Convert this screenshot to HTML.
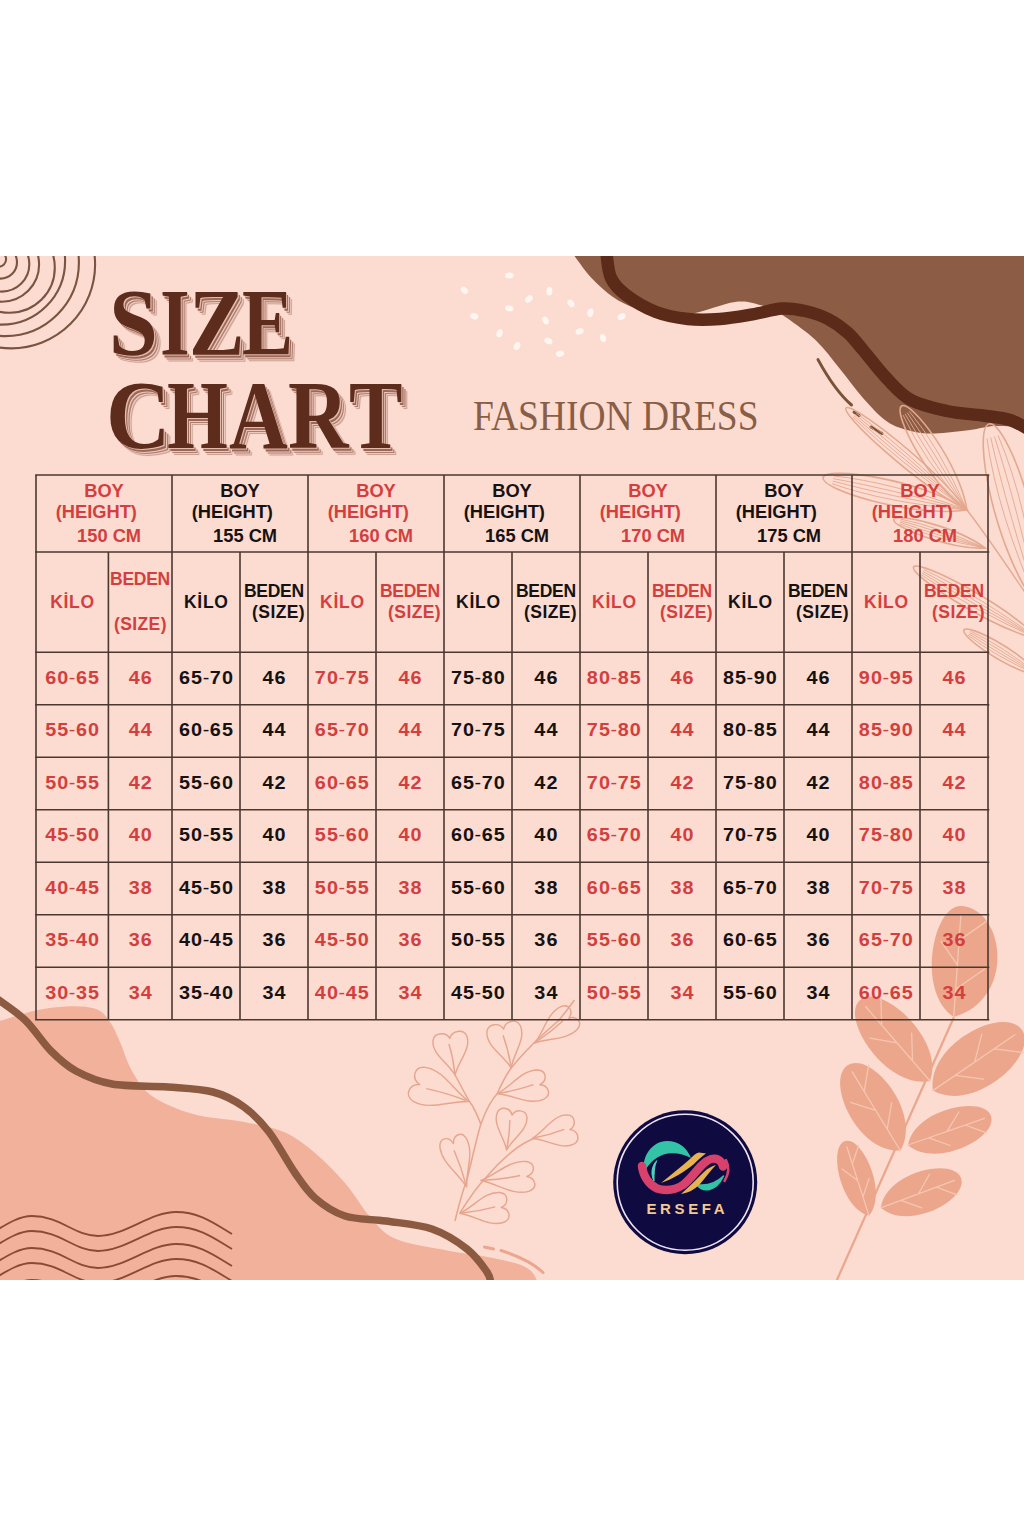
<!DOCTYPE html>
<html><head><meta charset="utf-8"><style>
html,body{margin:0;padding:0;background:#fff;}
body{width:1024px;height:1536px;position:relative;overflow:hidden;}
.t{position:absolute;font-family:"Liberation Serif",serif;white-space:nowrap;line-height:1;transform-origin:0 0;}
.big{font-weight:bold;color:#5e2c1c;font-size:97.5px;
text-shadow:1.3px 1.3px 0 #e4bcae,2.6px 2.6px 0.3px #9c6858,3.7px 3.7px 0 #ecc6b9,5px 5px 0.4px #ad7d6d,6.1px 6.1px 0 #eecabe,7.2px 7.2px 0.8px #c8a092;}
.fd{color:#895e46;font-size:41.4px;}
</style></head><body>
<svg width="1024" height="1536" viewBox="0 0 1024 1536" style="position:absolute;left:0;top:0"><defs><clipPath id="pc"><rect x="0" y="256" width="1024" height="1024"/></clipPath></defs><rect x="0" y="256" width="1024" height="1024" fill="#fcdbd1"/><g clip-path="url(#pc)"><path d="M0.0,1021.0 C5.9,1019.2 24.5,1012.9 35.5,1010.5 C46.5,1008.1 55.9,1006.6 66.0,1006.4 C76.1,1006.1 88.7,1006.4 96.0,1009.0 C103.3,1011.6 106.0,1016.5 110.0,1022.0 C114.0,1027.5 116.3,1033.8 120.0,1042.0 C123.7,1050.2 126.7,1062.0 132.0,1071.0 C137.3,1080.0 141.8,1088.8 152.0,1096.0 C162.2,1103.2 177.7,1109.7 193.0,1114.0 C208.3,1118.3 228.8,1119.0 244.0,1122.0 C259.2,1125.0 272.2,1126.8 284.0,1132.0 C295.8,1137.2 304.8,1144.5 315.0,1153.0 C325.2,1161.5 335.7,1172.2 345.0,1183.0 C354.3,1193.8 362.5,1208.7 371.0,1218.0 C379.5,1227.3 383.3,1233.6 396.0,1239.0 C408.7,1244.4 432.7,1247.6 447.0,1250.4 C461.3,1253.2 470.7,1253.9 482.0,1256.0 C493.3,1258.1 506.8,1260.5 515.0,1263.0 C523.2,1265.5 527.2,1267.7 531.0,1271.0 C534.8,1274.3 536.8,1281.0 538.0,1283.0 L0,1282 Z" fill="#f2b19b"/><path d="M-4.0,998.0 C0.8,1001.7 15.8,1011.2 25.0,1020.0 C34.2,1028.8 42.5,1042.5 51.0,1051.0 C59.5,1059.5 65.8,1065.5 76.0,1071.0 C86.2,1076.5 96.7,1081.3 112.0,1084.0 C127.3,1086.7 151.2,1085.7 168.0,1087.0 C184.8,1088.3 200.3,1088.7 213.0,1092.0 C225.7,1095.3 234.7,1100.3 244.0,1107.0 C253.3,1113.7 260.5,1121.0 269.0,1132.0 C277.5,1143.0 287.3,1162.0 295.0,1173.0 C302.7,1184.0 306.7,1190.8 315.0,1198.0 C323.3,1205.2 333.2,1212.2 345.0,1216.0 C356.8,1219.8 371.5,1218.8 386.0,1221.0 C400.5,1223.2 418.5,1224.3 432.0,1229.0 C445.5,1233.7 457.8,1241.8 467.0,1249.0 C476.2,1256.2 483.0,1266.2 487.0,1272.0 C491.0,1277.8 490.3,1282.0 491.0,1284.0" fill="none" stroke="#8b5a40" stroke-width="7.5"/><path d="M484.5,1247 L493.5,1249 M501,1250.5 C515,1255 532,1262 543,1272.5" fill="none" stroke="#eaa68e" stroke-width="3" stroke-linecap="round"/><path d="M-10,1234 C10,1222 20,1216 32,1216 C60,1216 75,1236 98,1236 C125,1236 150,1212 176,1212 C200,1212 215,1224 232,1234" fill="none" stroke="#8b4a35" stroke-width="1.8"/><path d="M-10,1249 C10,1237 20,1231 32,1231 C60,1231 75,1251 98,1251 C125,1251 150,1227 176,1227 C200,1227 215,1239 232,1249" fill="none" stroke="#8b4a35" stroke-width="1.8"/><path d="M-10,1266 C10,1254 20,1248 32,1248 C60,1248 75,1268 98,1268 C125,1268 150,1244 176,1244 C200,1244 215,1256 232,1266" fill="none" stroke="#8b4a35" stroke-width="1.8"/><path d="M-10,1281 C10,1269 20,1263 32,1263 C60,1263 75,1283 98,1283 C125,1283 150,1259 176,1259 C200,1259 215,1271 232,1281" fill="none" stroke="#8b4a35" stroke-width="1.8"/><path d="M-10,1298 C10,1286 20,1280 32,1280 C60,1280 75,1300 98,1300 C125,1300 150,1276 176,1276 C200,1276 215,1288 232,1298" fill="none" stroke="#8b4a35" stroke-width="1.8"/><path d="M573.0,254.0 C576.1,258.0 584.8,270.8 591.5,278.0 C598.2,285.2 605.9,292.0 613.0,297.0 C620.1,302.0 627.5,305.2 634.0,308.0 C640.5,310.8 642.7,313.0 652.0,314.0 C661.3,315.0 676.2,316.0 690.0,314.0 C703.8,312.0 723.3,303.5 735.0,302.0 C746.7,300.5 753.3,303.5 760.0,305.0 C766.7,306.5 770.5,308.8 775.0,311.0 C779.5,313.2 780.2,313.1 787.0,318.0 C793.8,322.9 807.2,332.0 816.0,340.5 C824.8,349.0 832.2,359.4 840.0,369.0 C847.8,378.6 855.2,389.2 863.0,398.0 C870.8,406.8 879.0,416.0 887.0,421.5 C895.0,427.0 903.0,429.0 911.0,431.0 C919.0,433.0 925.2,433.7 935.0,433.5 C944.8,433.3 960.2,431.2 970.0,430.0 C979.8,428.8 984.7,426.5 994.0,426.0 C1003.3,425.5 1020.7,426.8 1026.0,427.0 L1026,254 Z" fill="#8c5d44"/><path d="M606.5,254.0 C607.2,258.0 607.8,271.2 611.0,278.0 C614.2,284.8 618.5,289.3 626.0,295.0 C633.5,300.7 645.7,308.0 656.0,312.0 C666.3,316.0 677.3,317.8 688.0,319.0 C698.7,320.2 709.2,319.8 720.0,319.0 C730.8,318.2 742.3,316.1 752.6,314.4 C762.9,312.6 773.3,309.1 782.0,308.5 C790.7,307.9 797.3,309.2 805.0,311.0 C812.7,312.8 820.8,315.3 828.0,319.0 C835.2,322.7 842.2,327.8 848.0,333.0 C853.8,338.2 856.5,342.4 863.0,350.0 C869.5,357.6 879.0,370.4 887.0,378.7 C895.0,387.0 901.0,394.6 911.0,400.0 C921.0,405.4 934.9,408.4 946.8,411.0 C958.7,413.6 972.0,414.0 982.5,415.5 C993.0,417.0 1002.1,417.6 1010.0,420.0 C1017.9,422.4 1026.7,428.3 1030.0,430.0" fill="none" stroke="#5c2a18" stroke-width="12.5"/><path d="M818,359.6 C828,378 840,395 851.5,405" fill="none" stroke="#7a5238" stroke-width="3" stroke-linecap="round"/><path d="M854,412 L859,415.5 M871,427 L882,433.5" fill="none" stroke="#7a5238" stroke-width="3" stroke-linecap="round"/><path d="M967.0,510.0 C933.2,464.1 851.2,401.9 846.0,408.0 C840.8,414.1 916.1,484.5 967.0,510.0 Z" fill="none" stroke="#e4a88f" stroke-width="1.6" /><path d="M967.0,510.0 Q895.9,459.3 852.8,417.1 M967.0,510.0 Q898.9,455.7 853.9,415.8 M967.0,510.0 Q902.0,452.1 855.0,414.5 M967.0,510.0 Q905.0,448.5 856.2,413.1" fill="none" stroke="#e4a88f" stroke-width="0.9"/><path d="M967.0,510.0 C959.9,463.7 911.1,400.0 901.6,406.0 C892.1,412.0 928.3,483.5 967.0,510.0 Z" fill="none" stroke="#e4a88f" stroke-width="1.6" /><path d="M967.0,510.0 Q922.6,458.1 903.1,415.2 M967.0,510.0 Q928.2,454.6 905.1,413.9 M967.0,510.0 Q933.8,451.0 907.2,412.6 M967.0,510.0 Q939.5,447.5 909.3,411.3" fill="none" stroke="#e4a88f" stroke-width="0.9"/><path d="M967.0,510.0 C921.0,479.2 825.6,465.9 823.0,477.6 C820.4,489.3 912.2,518.1 967.0,510.0 Z" fill="none" stroke="#e4a88f" stroke-width="1.6" /><path d="M967.0,510.0 Q885.5,502.6 832.2,483.7 M967.0,510.0 Q887.0,495.7 832.8,481.1 M967.0,510.0 Q888.6,488.7 833.4,478.6 M967.0,510.0 Q890.1,481.8 833.9,476.0" fill="none" stroke="#e4a88f" stroke-width="0.9"/><path d="M985.0,548.0 C956.6,526.6 895.8,512.6 893.7,519.5 C891.6,526.4 949.5,549.5 985.0,548.0 Z" fill="none" stroke="#e4a88f" stroke-width="1.6" /><path d="M985.0,548.0 Q932.9,538.4 899.4,523.8 M985.0,548.0 Q934.1,534.4 899.9,522.2 M985.0,548.0 Q935.4,530.3 900.3,520.7 M985.0,548.0 Q936.7,526.2 900.8,519.2" fill="none" stroke="#e4a88f" stroke-width="0.9"/><path d="M1040.0,610.0 C1050.4,537.2 1006.0,419.3 989.0,424.0 C972.0,428.7 993.9,552.6 1040.0,610.0 Z" fill="none" stroke="#e4a88f" stroke-width="1.6" /><path d="M1040.0,610.0 Q996.8,511.8 987.0,438.5 M1040.0,610.0 Q1006.9,509.1 990.7,437.5 M1040.0,610.0 Q1017.0,506.3 994.4,436.5 M1040.0,610.0 Q1027.1,503.6 998.1,435.5" fill="none" stroke="#e4a88f" stroke-width="0.9"/><path d="M1040.0,640.0 C1003.1,601.8 918.0,559.4 913.6,567.0 C909.2,574.6 988.4,627.1 1040.0,640.0 Z" fill="none" stroke="#e4a88f" stroke-width="1.6" /><path d="M1040.0,640.0 Q966.6,606.6 921.0,574.6 M1040.0,640.0 Q969.2,602.1 922.0,572.9 M1040.0,640.0 Q971.8,597.6 922.9,571.3 M1040.0,640.0 Q974.4,593.1 923.9,569.6" fill="none" stroke="#e4a88f" stroke-width="0.9"/><path d="M1040.0,676.0 C1019.6,649.7 967.7,623.8 964.0,630.0 C960.3,636.2 1007.2,670.1 1040.0,676.0 Z" fill="none" stroke="#e4a88f" stroke-width="1.6" /><path d="M1040.0,676.0 Q994.9,656.2 968.1,635.2 M1040.0,676.0 Q997.1,652.5 968.9,633.9 M1040.0,676.0 Q999.3,648.9 969.7,632.5 M1040.0,676.0 Q1001.5,645.2 970.5,631.2" fill="none" stroke="#e4a88f" stroke-width="0.9"/><path d="M967,510 C990,540 1010,570 1030,600" fill="none" stroke="#e4a88f" stroke-width="1.3"/><path d="M455,1221 C460,1200 463,1190 466.7,1180.5 C472,1160 476,1140 480.8,1124.2 C486,1110 491,1100 497.2,1093.75 C502,1083 506,1075 511.2,1068 C519,1058 527,1050 534.7,1042.2 C542,1035 550,1028 558.1,1021 C565,1013 570,1006 574.5,1000 M480.8,1124.2 C477,1114 473,1106 469,1100.8 C464,1092 459,1082 455,1075 M459.7,1213.3 C468,1200 476,1188 485.5,1178 C494,1168 502,1160 511.2,1152.3 C519,1146 527,1141 534.7,1138.3" fill="none" stroke="#e6a58e" stroke-width="1.5"/><g transform="translate(455.0,1075.0) rotate(-98.0)"><path d="M0,0 C13.2,-5.1 24.200000000000003,-20.4 37.4,-17.0 C45.32,-14.28 44.0,-2.72 36.96,0 C44.0,2.72 45.32,14.28 37.4,17.0 C24.200000000000003,20.4 13.2,5.1 0,0 Z" fill="none" stroke="#e6a58e" stroke-width="1.4" stroke-linejoin="round"/><path d="M2.2,0 Q17.6,0.7 31.7,-1.7" fill="none" stroke="#e6a58e" stroke-width="1.4"/></g><g transform="translate(469.0,1101.5) rotate(-161.0)"><path d="M0,0 C18.599999999999998,-5.3999999999999995 34.1,-21.599999999999998 52.699999999999996,-18.0 C63.86,-15.12 62.0,-2.88 52.08,0 C62.0,2.88 63.86,15.12 52.699999999999996,18.0 C34.1,21.599999999999998 18.599999999999998,5.3999999999999995 0,0 Z" fill="none" stroke="#e6a58e" stroke-width="1.4" stroke-linejoin="round"/><path d="M3.1,0 Q24.8,0.7 44.6,-1.8" fill="none" stroke="#e6a58e" stroke-width="1.4"/></g><g transform="translate(511.2,1068.0) rotate(-101.0)"><path d="M0,0 C14.1,-5.1 25.85,-20.4 39.949999999999996,-17.0 C48.410000000000004,-14.28 47.0,-2.72 39.48,0 C47.0,2.72 48.410000000000004,14.28 39.949999999999996,17.0 C25.85,20.4 14.1,5.1 0,0 Z" fill="none" stroke="#e6a58e" stroke-width="1.4" stroke-linejoin="round"/><path d="M2.4,0 Q18.8,0.7 33.8,-1.7" fill="none" stroke="#e6a58e" stroke-width="1.4"/></g><g transform="translate(497.2,1093.8) rotate(-12.0)"><path d="M0,0 C15.6,-4.5 28.6,-18.0 44.199999999999996,-15.0 C53.56,-12.6 52.0,-2.4 43.68,0 C52.0,2.4 53.56,12.6 44.199999999999996,15.0 C28.6,18.0 15.6,4.5 0,0 Z" fill="none" stroke="#e6a58e" stroke-width="1.4" stroke-linejoin="round"/><path d="M2.6,0 Q20.8,0.6 37.4,-1.5" fill="none" stroke="#e6a58e" stroke-width="1.4"/></g><g transform="translate(534.7,1043.0) rotate(-36.0)"><path d="M0,0 C15.0,-4.2 27.500000000000004,-16.8 42.5,-14.0 C51.5,-11.76 50.0,-2.24 42.0,0 C50.0,2.24 51.5,11.76 42.5,14.0 C27.500000000000004,16.8 15.0,4.2 0,0 Z" fill="none" stroke="#e6a58e" stroke-width="1.4" stroke-linejoin="round"/><path d="M2.5,0 Q20.0,0.6 36.0,-1.4" fill="none" stroke="#e6a58e" stroke-width="1.4"/></g><g transform="translate(506.6,1150.0) rotate(-81.0)"><path d="M0,0 C12.6,-4.5 23.1,-18.0 35.699999999999996,-15.0 C43.26,-12.6 42.0,-2.4 35.28,0 C42.0,2.4 43.26,12.6 35.699999999999996,15.0 C23.1,18.0 12.6,4.5 0,0 Z" fill="none" stroke="#e6a58e" stroke-width="1.4" stroke-linejoin="round"/><path d="M2.1,0 Q16.8,0.6 30.2,-1.5" fill="none" stroke="#e6a58e" stroke-width="1.4"/></g><g transform="translate(532.3,1138.3) rotate(-13.0)"><path d="M0,0 C13.799999999999999,-4.5 25.3,-18.0 39.1,-15.0 C47.38,-12.6 46.0,-2.4 38.64,0 C46.0,2.4 47.38,12.6 39.1,15.0 C25.3,18.0 13.799999999999999,4.5 0,0 Z" fill="none" stroke="#e6a58e" stroke-width="1.4" stroke-linejoin="round"/><path d="M2.3,0 Q18.4,0.6 33.1,-1.5" fill="none" stroke="#e6a58e" stroke-width="1.4"/></g><g transform="translate(466.7,1187.0) rotate(-107.0)"><path d="M0,0 C16.2,-4.2 29.700000000000003,-16.8 45.9,-14.0 C55.620000000000005,-11.76 54.0,-2.24 45.36,0 C54.0,2.24 55.620000000000005,11.76 45.9,14.0 C29.700000000000003,16.8 16.2,4.2 0,0 Z" fill="none" stroke="#e6a58e" stroke-width="1.4" stroke-linejoin="round"/><path d="M2.7,0 Q21.6,0.6 38.9,-1.4" fill="none" stroke="#e6a58e" stroke-width="1.4"/></g><g transform="translate(480.8,1180.5) rotate(-5.0)"><path d="M0,0 C16.5,-4.5 30.250000000000004,-18.0 46.75,-15.0 C56.65,-12.6 55.0,-2.4 46.199999999999996,0 C55.0,2.4 56.65,12.6 46.75,15.0 C30.250000000000004,18.0 16.5,4.5 0,0 Z" fill="none" stroke="#e6a58e" stroke-width="1.4" stroke-linejoin="round"/><path d="M2.8,0 Q22.0,0.6 39.6,-1.5" fill="none" stroke="#e6a58e" stroke-width="1.4"/></g><g transform="translate(459.7,1213.3) rotate(-8.0)"><path d="M0,0 C15.0,-4.5 27.500000000000004,-18.0 42.5,-15.0 C51.5,-12.6 50.0,-2.4 42.0,0 C50.0,2.4 51.5,12.6 42.5,15.0 C27.500000000000004,18.0 15.0,4.5 0,0 Z" fill="none" stroke="#e6a58e" stroke-width="1.4" stroke-linejoin="round"/><path d="M2.5,0 Q20.0,0.6 36.0,-1.5" fill="none" stroke="#e6a58e" stroke-width="1.4"/></g><path d="M836,1282 C860,1230 900,1140 954,1017" fill="none" stroke="#eba68c" stroke-width="2.2"/><path d="M953.7,1017.0 C1016.3,999.1 1005.1,909.1 961.5,906.0 C933.1,904.0 915.5,992.0 953.7,1017.0 Z" fill="#eba68c" stroke="none" stroke-width="1.3" /><path d="M953.7,1017.0 L960.9,914.9 M955.6,989.2 L984.7,969.0 M957.4,964.8 L941.0,941.4 M959.1,940.4 L988.2,920.1" fill="none" stroke="#f6c6b2" stroke-width="1.3" stroke-linecap="round"/><path d="M930.0,1081.0 C945.2,1039.6 880.8,982.0 860.0,1000.0 C839.2,1018.0 886.8,1090.0 930.0,1081.0 Z" fill="#eba68c" stroke="none" stroke-width="1.3" /><path d="M930.0,1081.0 L865.6,1006.5 M912.5,1060.8 L911.7,1033.2 M897.1,1042.9 L869.9,1038.1 M881.7,1025.1 L880.9,997.5" fill="none" stroke="#f6c6b2" stroke-width="1.3" stroke-linecap="round"/><path d="M932.8,1090.6 C974.6,1113.7 1039.1,1055.1 1022.0,1030.0 C1004.9,1004.9 926.7,1043.3 932.8,1090.6 Z" fill="#eba68c" stroke="none" stroke-width="1.3" /><path d="M932.8,1090.6 L1014.9,1034.8 M955.1,1075.4 L983.7,1079.2 M974.7,1062.1 L981.8,1034.1 M994.3,1048.8 L1023.0,1052.5" fill="none" stroke="#f6c6b2" stroke-width="1.3" stroke-linecap="round"/><path d="M900.3,1150.5 C922.7,1113.3 871.5,1050.6 848.0,1065.0 C824.5,1079.4 856.9,1153.5 900.3,1150.5 Z" fill="#eba68c" stroke="none" stroke-width="1.3" /><path d="M900.3,1150.5 L852.2,1071.8 M887.2,1129.1 L891.6,1102.9 M875.7,1110.3 L850.4,1102.3 M864.2,1091.5 L868.6,1065.3" fill="none" stroke="#f6c6b2" stroke-width="1.3" stroke-linecap="round"/><path d="M908.0,1145.0 C935.1,1169.3 998.5,1137.5 991.0,1116.0 C983.5,1094.5 914.1,1109.1 908.0,1145.0 Z" fill="#eba68c" stroke="none" stroke-width="1.3" /><path d="M908.0,1145.0 L984.4,1118.3 M928.8,1137.8 L950.1,1145.5 M947.0,1131.4 L958.9,1112.0 M965.3,1125.0 L986.6,1132.8" fill="none" stroke="#f6c6b2" stroke-width="1.3" stroke-linecap="round"/><path d="M869.0,1215.6 C888.3,1192.9 862.2,1135.5 845.0,1141.0 C827.8,1146.5 840.1,1208.4 869.0,1215.6 Z" fill="#eba68c" stroke="none" stroke-width="1.3" /><path d="M869.0,1215.6 L846.9,1147.0 M863.0,1196.9 L869.1,1178.5 M857.7,1180.5 L842.1,1169.1 M852.4,1164.1 L858.5,1145.7" fill="none" stroke="#f6c6b2" stroke-width="1.3" stroke-linecap="round"/><path d="M880.8,1207.8 C908.0,1231.8 968.9,1199.4 961.0,1178.0 C953.1,1156.6 885.7,1171.9 880.8,1207.8 Z" fill="#eba68c" stroke="none" stroke-width="1.3" /><path d="M880.8,1207.8 L954.6,1180.4 M900.8,1200.3 L921.9,1207.9 M918.5,1193.8 L929.5,1174.3 M936.1,1187.2 L957.2,1194.8" fill="none" stroke="#f6c6b2" stroke-width="1.3" stroke-linecap="round"/></g><g clip-path="url(#pc)"><circle cx="-1.3" cy="259.3" r="7.4" fill="none" stroke="#7a5442" stroke-width="2.1"/><circle cx="0.6" cy="262.2" r="16.4" fill="none" stroke="#7a5442" stroke-width="2.1"/><circle cx="1.9" cy="264.2" r="27.4" fill="none" stroke="#7a5442" stroke-width="2.1"/><circle cx="2.0" cy="264.6" r="37.1" fill="none" stroke="#7a5442" stroke-width="2.1"/><circle cx="9.7" cy="267.7" r="45.1" fill="none" stroke="#7a5442" stroke-width="2.1"/><circle cx="1.4" cy="260.9" r="63.7" fill="none" stroke="#7a5442" stroke-width="2.1"/><circle cx="5.4" cy="262.6" r="73.5" fill="none" stroke="#7a5442" stroke-width="2.1"/><circle cx="11.2" cy="264.5" r="83.9" fill="none" stroke="#7a5442" stroke-width="2.1"/></g><ellipse cx="509.3" cy="275.6" rx="4.2" ry="3" transform="rotate(0 509.3 275.6)" fill="#fff6f2"/><ellipse cx="464.4" cy="290.3" rx="4.2" ry="3" transform="rotate(47 464.4 290.3)" fill="#fff6f2"/><ellipse cx="549.4" cy="291.3" rx="4.2" ry="3" transform="rotate(94 549.4 291.3)" fill="#fff6f2"/><ellipse cx="528.9" cy="299" rx="4.2" ry="3" transform="rotate(141 528.9 299)" fill="#fff6f2"/><ellipse cx="509.3" cy="308.4" rx="4.2" ry="3" transform="rotate(8 509.3 308.4)" fill="#fff6f2"/><ellipse cx="570.9" cy="303.4" rx="4.2" ry="3" transform="rotate(55 570.9 303.4)" fill="#fff6f2"/><ellipse cx="590.4" cy="312.7" rx="4.2" ry="3" transform="rotate(102 590.4 312.7)" fill="#fff6f2"/><ellipse cx="621.6" cy="316.6" rx="4.2" ry="3" transform="rotate(149 621.6 316.6)" fill="#fff6f2"/><ellipse cx="474.2" cy="316.25" rx="4.2" ry="3" transform="rotate(16 474.2 316.25)" fill="#fff6f2"/><ellipse cx="545.5" cy="320.5" rx="4.2" ry="3" transform="rotate(63 545.5 320.5)" fill="#fff6f2"/><ellipse cx="499.6" cy="333.2" rx="4.2" ry="3" transform="rotate(110 499.6 333.2)" fill="#fff6f2"/><ellipse cx="579.6" cy="331.3" rx="4.2" ry="3" transform="rotate(157 579.6 331.3)" fill="#fff6f2"/><ellipse cx="548.4" cy="341" rx="4.2" ry="3" transform="rotate(24 548.4 341)" fill="#fff6f2"/><ellipse cx="603" cy="338" rx="4.2" ry="3" transform="rotate(71 603 338)" fill="#fff6f2"/><ellipse cx="517" cy="346" rx="4.2" ry="3" transform="rotate(118 517 346)" fill="#fff6f2"/><ellipse cx="560" cy="353.75" rx="4.2" ry="3" transform="rotate(165 560 353.75)" fill="#fff6f2"/><line x1="35.2" y1="475" x2="989.3" y2="475" stroke="#4a3830" stroke-width="1.6"/><line x1="35.2" y1="552" x2="989.3" y2="552" stroke="#4a3830" stroke-width="1.6"/><line x1="35.2" y1="652.2" x2="989.3" y2="652.2" stroke="#4a3830" stroke-width="1.6"/><line x1="35.2" y1="704.7" x2="989.3" y2="704.7" stroke="#4a3830" stroke-width="1.6"/><line x1="35.2" y1="757.2" x2="989.3" y2="757.2" stroke="#4a3830" stroke-width="1.6"/><line x1="35.2" y1="809.7" x2="989.3" y2="809.7" stroke="#4a3830" stroke-width="1.6"/><line x1="35.2" y1="862.2" x2="989.3" y2="862.2" stroke="#4a3830" stroke-width="1.6"/><line x1="35.2" y1="914.7" x2="989.3" y2="914.7" stroke="#4a3830" stroke-width="1.6"/><line x1="35.2" y1="967.2" x2="989.3" y2="967.2" stroke="#4a3830" stroke-width="1.6"/><line x1="35.2" y1="1019.7" x2="989.3" y2="1019.7" stroke="#4a3830" stroke-width="1.6"/><line x1="36" y1="475" x2="36" y2="1019.7" stroke="#4a3830" stroke-width="1.6"/><line x1="172" y1="475" x2="172" y2="1019.7" stroke="#4a3830" stroke-width="1.6"/><line x1="308" y1="475" x2="308" y2="1019.7" stroke="#4a3830" stroke-width="1.6"/><line x1="444" y1="475" x2="444" y2="1019.7" stroke="#4a3830" stroke-width="1.6"/><line x1="580" y1="475" x2="580" y2="1019.7" stroke="#4a3830" stroke-width="1.6"/><line x1="716" y1="475" x2="716" y2="1019.7" stroke="#4a3830" stroke-width="1.6"/><line x1="852" y1="475" x2="852" y2="1019.7" stroke="#4a3830" stroke-width="1.6"/><line x1="988" y1="475" x2="988" y2="1019.7" stroke="#4a3830" stroke-width="1.6"/><line x1="108.4" y1="552" x2="108.4" y2="1019.7" stroke="#4a3830" stroke-width="1.6"/><line x1="240" y1="552" x2="240" y2="1019.7" stroke="#4a3830" stroke-width="1.6"/><line x1="376" y1="552" x2="376" y2="1019.7" stroke="#4a3830" stroke-width="1.6"/><line x1="512" y1="552" x2="512" y2="1019.7" stroke="#4a3830" stroke-width="1.6"/><line x1="648" y1="552" x2="648" y2="1019.7" stroke="#4a3830" stroke-width="1.6"/><line x1="784" y1="552" x2="784" y2="1019.7" stroke="#4a3830" stroke-width="1.6"/><line x1="920" y1="552" x2="920" y2="1019.7" stroke="#4a3830" stroke-width="1.6"/><g font-family="Liberation Sans, sans-serif" font-weight="bold"><text x="104.0" y="497.0" fill="#d33f3f" font-size="18.3" letter-spacing="0" text-anchor="middle">BOY</text><text x="96.3" y="518.3" fill="#d33f3f" font-size="18.3" letter-spacing="0" text-anchor="middle">(HEIGHT)</text><text x="109.1" y="542.3" fill="#d33f3f" font-size="18.3" letter-spacing="0" text-anchor="middle">150 CM</text><text x="72.5" y="608.0" fill="#d33f3f" font-size="17.5" letter-spacing="0.7" text-anchor="middle">KİLO</text><text x="140.0" y="584.5" fill="#d33f3f" font-size="17.5" letter-spacing="-0.3" text-anchor="middle">BEDEN</text><text x="140.4" y="630.0" fill="#d33f3f" font-size="17.5" letter-spacing="0.4" text-anchor="middle">(SIZE)</text><text x="72.7" y="683.7" fill="#d33f3f" font-size="18" letter-spacing="1.0" text-anchor="middle" transform="translate(72.65,0) scale(1.1,1) translate(-72.65,0)">60<tspan dx="-0.5" font-weight="normal">-</tspan><tspan dx="-0.5">65</tspan></text><text x="140.8" y="683.7" fill="#d33f3f" font-size="18" letter-spacing="1.0" text-anchor="middle" transform="translate(140.75,0) scale(1.1,1) translate(-140.75,0)">46</text><text x="72.7" y="736.2" fill="#d33f3f" font-size="18" letter-spacing="1.0" text-anchor="middle" transform="translate(72.65,0) scale(1.1,1) translate(-72.65,0)">55<tspan dx="-0.5" font-weight="normal">-</tspan><tspan dx="-0.5">60</tspan></text><text x="140.8" y="736.2" fill="#d33f3f" font-size="18" letter-spacing="1.0" text-anchor="middle" transform="translate(140.75,0) scale(1.1,1) translate(-140.75,0)">44</text><text x="72.7" y="788.7" fill="#d33f3f" font-size="18" letter-spacing="1.0" text-anchor="middle" transform="translate(72.65,0) scale(1.1,1) translate(-72.65,0)">50<tspan dx="-0.5" font-weight="normal">-</tspan><tspan dx="-0.5">55</tspan></text><text x="140.8" y="788.7" fill="#d33f3f" font-size="18" letter-spacing="1.0" text-anchor="middle" transform="translate(140.75,0) scale(1.1,1) translate(-140.75,0)">42</text><text x="72.7" y="841.2" fill="#d33f3f" font-size="18" letter-spacing="1.0" text-anchor="middle" transform="translate(72.65,0) scale(1.1,1) translate(-72.65,0)">45<tspan dx="-0.5" font-weight="normal">-</tspan><tspan dx="-0.5">50</tspan></text><text x="140.8" y="841.2" fill="#d33f3f" font-size="18" letter-spacing="1.0" text-anchor="middle" transform="translate(140.75,0) scale(1.1,1) translate(-140.75,0)">40</text><text x="72.7" y="893.7" fill="#d33f3f" font-size="18" letter-spacing="1.0" text-anchor="middle" transform="translate(72.65,0) scale(1.1,1) translate(-72.65,0)">40<tspan dx="-0.5" font-weight="normal">-</tspan><tspan dx="-0.5">45</tspan></text><text x="140.8" y="893.7" fill="#d33f3f" font-size="18" letter-spacing="1.0" text-anchor="middle" transform="translate(140.75,0) scale(1.1,1) translate(-140.75,0)">38</text><text x="72.7" y="946.2" fill="#d33f3f" font-size="18" letter-spacing="1.0" text-anchor="middle" transform="translate(72.65,0) scale(1.1,1) translate(-72.65,0)">35<tspan dx="-0.5" font-weight="normal">-</tspan><tspan dx="-0.5">40</tspan></text><text x="140.8" y="946.2" fill="#d33f3f" font-size="18" letter-spacing="1.0" text-anchor="middle" transform="translate(140.75,0) scale(1.1,1) translate(-140.75,0)">36</text><text x="72.7" y="998.7" fill="#d33f3f" font-size="18" letter-spacing="1.0" text-anchor="middle" transform="translate(72.65,0) scale(1.1,1) translate(-72.65,0)">30<tspan dx="-0.5" font-weight="normal">-</tspan><tspan dx="-0.5">35</tspan></text><text x="140.8" y="998.7" fill="#d33f3f" font-size="18" letter-spacing="1.0" text-anchor="middle" transform="translate(140.75,0) scale(1.1,1) translate(-140.75,0)">34</text><text x="240.0" y="497.0" fill="#161212" font-size="18.3" letter-spacing="0" text-anchor="middle">BOY</text><text x="232.3" y="518.3" fill="#161212" font-size="18.3" letter-spacing="0" text-anchor="middle">(HEIGHT)</text><text x="245.1" y="542.3" fill="#161212" font-size="18.3" letter-spacing="0" text-anchor="middle">155 CM</text><text x="206.3" y="608.0" fill="#161212" font-size="17.5" letter-spacing="0.7" text-anchor="middle">KİLO</text><text x="273.9" y="597.0" fill="#161212" font-size="17.5" letter-spacing="-0.3" text-anchor="middle">BEDEN</text><text x="278.6" y="618.3" fill="#161212" font-size="17.5" letter-spacing="0.4" text-anchor="middle">(SIZE)</text><text x="206.5" y="683.7" fill="#161212" font-size="18" letter-spacing="1.0" text-anchor="middle" transform="translate(206.45,0) scale(1.1,1) translate(-206.45,0)">65<tspan dx="-0.5" font-weight="normal">-</tspan><tspan dx="-0.5">70</tspan></text><text x="274.6" y="683.7" fill="#161212" font-size="18" letter-spacing="1.0" text-anchor="middle" transform="translate(274.55,0) scale(1.1,1) translate(-274.55,0)">46</text><text x="206.5" y="736.2" fill="#161212" font-size="18" letter-spacing="1.0" text-anchor="middle" transform="translate(206.45,0) scale(1.1,1) translate(-206.45,0)">60<tspan dx="-0.5" font-weight="normal">-</tspan><tspan dx="-0.5">65</tspan></text><text x="274.6" y="736.2" fill="#161212" font-size="18" letter-spacing="1.0" text-anchor="middle" transform="translate(274.55,0) scale(1.1,1) translate(-274.55,0)">44</text><text x="206.5" y="788.7" fill="#161212" font-size="18" letter-spacing="1.0" text-anchor="middle" transform="translate(206.45,0) scale(1.1,1) translate(-206.45,0)">55<tspan dx="-0.5" font-weight="normal">-</tspan><tspan dx="-0.5">60</tspan></text><text x="274.6" y="788.7" fill="#161212" font-size="18" letter-spacing="1.0" text-anchor="middle" transform="translate(274.55,0) scale(1.1,1) translate(-274.55,0)">42</text><text x="206.5" y="841.2" fill="#161212" font-size="18" letter-spacing="1.0" text-anchor="middle" transform="translate(206.45,0) scale(1.1,1) translate(-206.45,0)">50<tspan dx="-0.5" font-weight="normal">-</tspan><tspan dx="-0.5">55</tspan></text><text x="274.6" y="841.2" fill="#161212" font-size="18" letter-spacing="1.0" text-anchor="middle" transform="translate(274.55,0) scale(1.1,1) translate(-274.55,0)">40</text><text x="206.5" y="893.7" fill="#161212" font-size="18" letter-spacing="1.0" text-anchor="middle" transform="translate(206.45,0) scale(1.1,1) translate(-206.45,0)">45<tspan dx="-0.5" font-weight="normal">-</tspan><tspan dx="-0.5">50</tspan></text><text x="274.6" y="893.7" fill="#161212" font-size="18" letter-spacing="1.0" text-anchor="middle" transform="translate(274.55,0) scale(1.1,1) translate(-274.55,0)">38</text><text x="206.5" y="946.2" fill="#161212" font-size="18" letter-spacing="1.0" text-anchor="middle" transform="translate(206.45,0) scale(1.1,1) translate(-206.45,0)">40<tspan dx="-0.5" font-weight="normal">-</tspan><tspan dx="-0.5">45</tspan></text><text x="274.6" y="946.2" fill="#161212" font-size="18" letter-spacing="1.0" text-anchor="middle" transform="translate(274.55,0) scale(1.1,1) translate(-274.55,0)">36</text><text x="206.5" y="998.7" fill="#161212" font-size="18" letter-spacing="1.0" text-anchor="middle" transform="translate(206.45,0) scale(1.1,1) translate(-206.45,0)">35<tspan dx="-0.5" font-weight="normal">-</tspan><tspan dx="-0.5">40</tspan></text><text x="274.6" y="998.7" fill="#161212" font-size="18" letter-spacing="1.0" text-anchor="middle" transform="translate(274.55,0) scale(1.1,1) translate(-274.55,0)">34</text><text x="376.0" y="497.0" fill="#d33f3f" font-size="18.3" letter-spacing="0" text-anchor="middle">BOY</text><text x="368.3" y="518.3" fill="#d33f3f" font-size="18.3" letter-spacing="0" text-anchor="middle">(HEIGHT)</text><text x="381.1" y="542.3" fill="#d33f3f" font-size="18.3" letter-spacing="0" text-anchor="middle">160 CM</text><text x="342.4" y="608.0" fill="#d33f3f" font-size="17.5" letter-spacing="0.7" text-anchor="middle">KİLO</text><text x="409.9" y="597.0" fill="#d33f3f" font-size="17.5" letter-spacing="-0.3" text-anchor="middle">BEDEN</text><text x="414.6" y="618.3" fill="#d33f3f" font-size="17.5" letter-spacing="0.4" text-anchor="middle">(SIZE)</text><text x="342.4" y="683.7" fill="#d33f3f" font-size="18" letter-spacing="1.0" text-anchor="middle" transform="translate(342.45,0) scale(1.1,1) translate(-342.45,0)">70<tspan dx="-0.5" font-weight="normal">-</tspan><tspan dx="-0.5">75</tspan></text><text x="410.6" y="683.7" fill="#d33f3f" font-size="18" letter-spacing="1.0" text-anchor="middle" transform="translate(410.55,0) scale(1.1,1) translate(-410.55,0)">46</text><text x="342.4" y="736.2" fill="#d33f3f" font-size="18" letter-spacing="1.0" text-anchor="middle" transform="translate(342.45,0) scale(1.1,1) translate(-342.45,0)">65<tspan dx="-0.5" font-weight="normal">-</tspan><tspan dx="-0.5">70</tspan></text><text x="410.6" y="736.2" fill="#d33f3f" font-size="18" letter-spacing="1.0" text-anchor="middle" transform="translate(410.55,0) scale(1.1,1) translate(-410.55,0)">44</text><text x="342.4" y="788.7" fill="#d33f3f" font-size="18" letter-spacing="1.0" text-anchor="middle" transform="translate(342.45,0) scale(1.1,1) translate(-342.45,0)">60<tspan dx="-0.5" font-weight="normal">-</tspan><tspan dx="-0.5">65</tspan></text><text x="410.6" y="788.7" fill="#d33f3f" font-size="18" letter-spacing="1.0" text-anchor="middle" transform="translate(410.55,0) scale(1.1,1) translate(-410.55,0)">42</text><text x="342.4" y="841.2" fill="#d33f3f" font-size="18" letter-spacing="1.0" text-anchor="middle" transform="translate(342.45,0) scale(1.1,1) translate(-342.45,0)">55<tspan dx="-0.5" font-weight="normal">-</tspan><tspan dx="-0.5">60</tspan></text><text x="410.6" y="841.2" fill="#d33f3f" font-size="18" letter-spacing="1.0" text-anchor="middle" transform="translate(410.55,0) scale(1.1,1) translate(-410.55,0)">40</text><text x="342.4" y="893.7" fill="#d33f3f" font-size="18" letter-spacing="1.0" text-anchor="middle" transform="translate(342.45,0) scale(1.1,1) translate(-342.45,0)">50<tspan dx="-0.5" font-weight="normal">-</tspan><tspan dx="-0.5">55</tspan></text><text x="410.6" y="893.7" fill="#d33f3f" font-size="18" letter-spacing="1.0" text-anchor="middle" transform="translate(410.55,0) scale(1.1,1) translate(-410.55,0)">38</text><text x="342.4" y="946.2" fill="#d33f3f" font-size="18" letter-spacing="1.0" text-anchor="middle" transform="translate(342.45,0) scale(1.1,1) translate(-342.45,0)">45<tspan dx="-0.5" font-weight="normal">-</tspan><tspan dx="-0.5">50</tspan></text><text x="410.6" y="946.2" fill="#d33f3f" font-size="18" letter-spacing="1.0" text-anchor="middle" transform="translate(410.55,0) scale(1.1,1) translate(-410.55,0)">36</text><text x="342.4" y="998.7" fill="#d33f3f" font-size="18" letter-spacing="1.0" text-anchor="middle" transform="translate(342.45,0) scale(1.1,1) translate(-342.45,0)">40<tspan dx="-0.5" font-weight="normal">-</tspan><tspan dx="-0.5">45</tspan></text><text x="410.6" y="998.7" fill="#d33f3f" font-size="18" letter-spacing="1.0" text-anchor="middle" transform="translate(410.55,0) scale(1.1,1) translate(-410.55,0)">34</text><text x="512.0" y="497.0" fill="#161212" font-size="18.3" letter-spacing="0" text-anchor="middle">BOY</text><text x="504.3" y="518.3" fill="#161212" font-size="18.3" letter-spacing="0" text-anchor="middle">(HEIGHT)</text><text x="517.1" y="542.3" fill="#161212" font-size="18.3" letter-spacing="0" text-anchor="middle">165 CM</text><text x="478.4" y="608.0" fill="#161212" font-size="17.5" letter-spacing="0.7" text-anchor="middle">KİLO</text><text x="545.9" y="597.0" fill="#161212" font-size="17.5" letter-spacing="-0.3" text-anchor="middle">BEDEN</text><text x="550.6" y="618.3" fill="#161212" font-size="17.5" letter-spacing="0.4" text-anchor="middle">(SIZE)</text><text x="478.4" y="683.7" fill="#161212" font-size="18" letter-spacing="1.0" text-anchor="middle" transform="translate(478.45,0) scale(1.1,1) translate(-478.45,0)">75<tspan dx="-0.5" font-weight="normal">-</tspan><tspan dx="-0.5">80</tspan></text><text x="546.5" y="683.7" fill="#161212" font-size="18" letter-spacing="1.0" text-anchor="middle" transform="translate(546.55,0) scale(1.1,1) translate(-546.55,0)">46</text><text x="478.4" y="736.2" fill="#161212" font-size="18" letter-spacing="1.0" text-anchor="middle" transform="translate(478.45,0) scale(1.1,1) translate(-478.45,0)">70<tspan dx="-0.5" font-weight="normal">-</tspan><tspan dx="-0.5">75</tspan></text><text x="546.5" y="736.2" fill="#161212" font-size="18" letter-spacing="1.0" text-anchor="middle" transform="translate(546.55,0) scale(1.1,1) translate(-546.55,0)">44</text><text x="478.4" y="788.7" fill="#161212" font-size="18" letter-spacing="1.0" text-anchor="middle" transform="translate(478.45,0) scale(1.1,1) translate(-478.45,0)">65<tspan dx="-0.5" font-weight="normal">-</tspan><tspan dx="-0.5">70</tspan></text><text x="546.5" y="788.7" fill="#161212" font-size="18" letter-spacing="1.0" text-anchor="middle" transform="translate(546.55,0) scale(1.1,1) translate(-546.55,0)">42</text><text x="478.4" y="841.2" fill="#161212" font-size="18" letter-spacing="1.0" text-anchor="middle" transform="translate(478.45,0) scale(1.1,1) translate(-478.45,0)">60<tspan dx="-0.5" font-weight="normal">-</tspan><tspan dx="-0.5">65</tspan></text><text x="546.5" y="841.2" fill="#161212" font-size="18" letter-spacing="1.0" text-anchor="middle" transform="translate(546.55,0) scale(1.1,1) translate(-546.55,0)">40</text><text x="478.4" y="893.7" fill="#161212" font-size="18" letter-spacing="1.0" text-anchor="middle" transform="translate(478.45,0) scale(1.1,1) translate(-478.45,0)">55<tspan dx="-0.5" font-weight="normal">-</tspan><tspan dx="-0.5">60</tspan></text><text x="546.5" y="893.7" fill="#161212" font-size="18" letter-spacing="1.0" text-anchor="middle" transform="translate(546.55,0) scale(1.1,1) translate(-546.55,0)">38</text><text x="478.4" y="946.2" fill="#161212" font-size="18" letter-spacing="1.0" text-anchor="middle" transform="translate(478.45,0) scale(1.1,1) translate(-478.45,0)">50<tspan dx="-0.5" font-weight="normal">-</tspan><tspan dx="-0.5">55</tspan></text><text x="546.5" y="946.2" fill="#161212" font-size="18" letter-spacing="1.0" text-anchor="middle" transform="translate(546.55,0) scale(1.1,1) translate(-546.55,0)">36</text><text x="478.4" y="998.7" fill="#161212" font-size="18" letter-spacing="1.0" text-anchor="middle" transform="translate(478.45,0) scale(1.1,1) translate(-478.45,0)">45<tspan dx="-0.5" font-weight="normal">-</tspan><tspan dx="-0.5">50</tspan></text><text x="546.5" y="998.7" fill="#161212" font-size="18" letter-spacing="1.0" text-anchor="middle" transform="translate(546.55,0) scale(1.1,1) translate(-546.55,0)">34</text><text x="648.0" y="497.0" fill="#d33f3f" font-size="18.3" letter-spacing="0" text-anchor="middle">BOY</text><text x="640.3" y="518.3" fill="#d33f3f" font-size="18.3" letter-spacing="0" text-anchor="middle">(HEIGHT)</text><text x="653.1" y="542.3" fill="#d33f3f" font-size="18.3" letter-spacing="0" text-anchor="middle">170 CM</text><text x="614.4" y="608.0" fill="#d33f3f" font-size="17.5" letter-spacing="0.7" text-anchor="middle">KİLO</text><text x="681.9" y="597.0" fill="#d33f3f" font-size="17.5" letter-spacing="-0.3" text-anchor="middle">BEDEN</text><text x="686.6" y="618.3" fill="#d33f3f" font-size="17.5" letter-spacing="0.4" text-anchor="middle">(SIZE)</text><text x="614.4" y="683.7" fill="#d33f3f" font-size="18" letter-spacing="1.0" text-anchor="middle" transform="translate(614.45,0) scale(1.1,1) translate(-614.45,0)">80<tspan dx="-0.5" font-weight="normal">-</tspan><tspan dx="-0.5">85</tspan></text><text x="682.5" y="683.7" fill="#d33f3f" font-size="18" letter-spacing="1.0" text-anchor="middle" transform="translate(682.55,0) scale(1.1,1) translate(-682.55,0)">46</text><text x="614.4" y="736.2" fill="#d33f3f" font-size="18" letter-spacing="1.0" text-anchor="middle" transform="translate(614.45,0) scale(1.1,1) translate(-614.45,0)">75<tspan dx="-0.5" font-weight="normal">-</tspan><tspan dx="-0.5">80</tspan></text><text x="682.5" y="736.2" fill="#d33f3f" font-size="18" letter-spacing="1.0" text-anchor="middle" transform="translate(682.55,0) scale(1.1,1) translate(-682.55,0)">44</text><text x="614.4" y="788.7" fill="#d33f3f" font-size="18" letter-spacing="1.0" text-anchor="middle" transform="translate(614.45,0) scale(1.1,1) translate(-614.45,0)">70<tspan dx="-0.5" font-weight="normal">-</tspan><tspan dx="-0.5">75</tspan></text><text x="682.5" y="788.7" fill="#d33f3f" font-size="18" letter-spacing="1.0" text-anchor="middle" transform="translate(682.55,0) scale(1.1,1) translate(-682.55,0)">42</text><text x="614.4" y="841.2" fill="#d33f3f" font-size="18" letter-spacing="1.0" text-anchor="middle" transform="translate(614.45,0) scale(1.1,1) translate(-614.45,0)">65<tspan dx="-0.5" font-weight="normal">-</tspan><tspan dx="-0.5">70</tspan></text><text x="682.5" y="841.2" fill="#d33f3f" font-size="18" letter-spacing="1.0" text-anchor="middle" transform="translate(682.55,0) scale(1.1,1) translate(-682.55,0)">40</text><text x="614.4" y="893.7" fill="#d33f3f" font-size="18" letter-spacing="1.0" text-anchor="middle" transform="translate(614.45,0) scale(1.1,1) translate(-614.45,0)">60<tspan dx="-0.5" font-weight="normal">-</tspan><tspan dx="-0.5">65</tspan></text><text x="682.5" y="893.7" fill="#d33f3f" font-size="18" letter-spacing="1.0" text-anchor="middle" transform="translate(682.55,0) scale(1.1,1) translate(-682.55,0)">38</text><text x="614.4" y="946.2" fill="#d33f3f" font-size="18" letter-spacing="1.0" text-anchor="middle" transform="translate(614.45,0) scale(1.1,1) translate(-614.45,0)">55<tspan dx="-0.5" font-weight="normal">-</tspan><tspan dx="-0.5">60</tspan></text><text x="682.5" y="946.2" fill="#d33f3f" font-size="18" letter-spacing="1.0" text-anchor="middle" transform="translate(682.55,0) scale(1.1,1) translate(-682.55,0)">36</text><text x="614.4" y="998.7" fill="#d33f3f" font-size="18" letter-spacing="1.0" text-anchor="middle" transform="translate(614.45,0) scale(1.1,1) translate(-614.45,0)">50<tspan dx="-0.5" font-weight="normal">-</tspan><tspan dx="-0.5">55</tspan></text><text x="682.5" y="998.7" fill="#d33f3f" font-size="18" letter-spacing="1.0" text-anchor="middle" transform="translate(682.55,0) scale(1.1,1) translate(-682.55,0)">34</text><text x="784.0" y="497.0" fill="#161212" font-size="18.3" letter-spacing="0" text-anchor="middle">BOY</text><text x="776.3" y="518.3" fill="#161212" font-size="18.3" letter-spacing="0" text-anchor="middle">(HEIGHT)</text><text x="789.1" y="542.3" fill="#161212" font-size="18.3" letter-spacing="0" text-anchor="middle">175 CM</text><text x="750.4" y="608.0" fill="#161212" font-size="17.5" letter-spacing="0.7" text-anchor="middle">KİLO</text><text x="817.9" y="597.0" fill="#161212" font-size="17.5" letter-spacing="-0.3" text-anchor="middle">BEDEN</text><text x="822.6" y="618.3" fill="#161212" font-size="17.5" letter-spacing="0.4" text-anchor="middle">(SIZE)</text><text x="750.4" y="683.7" fill="#161212" font-size="18" letter-spacing="1.0" text-anchor="middle" transform="translate(750.45,0) scale(1.1,1) translate(-750.45,0)">85<tspan dx="-0.5" font-weight="normal">-</tspan><tspan dx="-0.5">90</tspan></text><text x="818.5" y="683.7" fill="#161212" font-size="18" letter-spacing="1.0" text-anchor="middle" transform="translate(818.55,0) scale(1.1,1) translate(-818.55,0)">46</text><text x="750.4" y="736.2" fill="#161212" font-size="18" letter-spacing="1.0" text-anchor="middle" transform="translate(750.45,0) scale(1.1,1) translate(-750.45,0)">80<tspan dx="-0.5" font-weight="normal">-</tspan><tspan dx="-0.5">85</tspan></text><text x="818.5" y="736.2" fill="#161212" font-size="18" letter-spacing="1.0" text-anchor="middle" transform="translate(818.55,0) scale(1.1,1) translate(-818.55,0)">44</text><text x="750.4" y="788.7" fill="#161212" font-size="18" letter-spacing="1.0" text-anchor="middle" transform="translate(750.45,0) scale(1.1,1) translate(-750.45,0)">75<tspan dx="-0.5" font-weight="normal">-</tspan><tspan dx="-0.5">80</tspan></text><text x="818.5" y="788.7" fill="#161212" font-size="18" letter-spacing="1.0" text-anchor="middle" transform="translate(818.55,0) scale(1.1,1) translate(-818.55,0)">42</text><text x="750.4" y="841.2" fill="#161212" font-size="18" letter-spacing="1.0" text-anchor="middle" transform="translate(750.45,0) scale(1.1,1) translate(-750.45,0)">70<tspan dx="-0.5" font-weight="normal">-</tspan><tspan dx="-0.5">75</tspan></text><text x="818.5" y="841.2" fill="#161212" font-size="18" letter-spacing="1.0" text-anchor="middle" transform="translate(818.55,0) scale(1.1,1) translate(-818.55,0)">40</text><text x="750.4" y="893.7" fill="#161212" font-size="18" letter-spacing="1.0" text-anchor="middle" transform="translate(750.45,0) scale(1.1,1) translate(-750.45,0)">65<tspan dx="-0.5" font-weight="normal">-</tspan><tspan dx="-0.5">70</tspan></text><text x="818.5" y="893.7" fill="#161212" font-size="18" letter-spacing="1.0" text-anchor="middle" transform="translate(818.55,0) scale(1.1,1) translate(-818.55,0)">38</text><text x="750.4" y="946.2" fill="#161212" font-size="18" letter-spacing="1.0" text-anchor="middle" transform="translate(750.45,0) scale(1.1,1) translate(-750.45,0)">60<tspan dx="-0.5" font-weight="normal">-</tspan><tspan dx="-0.5">65</tspan></text><text x="818.5" y="946.2" fill="#161212" font-size="18" letter-spacing="1.0" text-anchor="middle" transform="translate(818.55,0) scale(1.1,1) translate(-818.55,0)">36</text><text x="750.4" y="998.7" fill="#161212" font-size="18" letter-spacing="1.0" text-anchor="middle" transform="translate(750.45,0) scale(1.1,1) translate(-750.45,0)">55<tspan dx="-0.5" font-weight="normal">-</tspan><tspan dx="-0.5">60</tspan></text><text x="818.5" y="998.7" fill="#161212" font-size="18" letter-spacing="1.0" text-anchor="middle" transform="translate(818.55,0) scale(1.1,1) translate(-818.55,0)">34</text><text x="920.0" y="497.0" fill="#d33f3f" font-size="18.3" letter-spacing="0" text-anchor="middle">BOY</text><text x="912.3" y="518.3" fill="#d33f3f" font-size="18.3" letter-spacing="0" text-anchor="middle">(HEIGHT)</text><text x="925.1" y="542.3" fill="#d33f3f" font-size="18.3" letter-spacing="0" text-anchor="middle">180 CM</text><text x="886.4" y="608.0" fill="#d33f3f" font-size="17.5" letter-spacing="0.7" text-anchor="middle">KİLO</text><text x="953.9" y="597.0" fill="#d33f3f" font-size="17.5" letter-spacing="-0.3" text-anchor="middle">BEDEN</text><text x="958.6" y="618.3" fill="#d33f3f" font-size="17.5" letter-spacing="0.4" text-anchor="middle">(SIZE)</text><text x="886.4" y="683.7" fill="#d33f3f" font-size="18" letter-spacing="1.0" text-anchor="middle" transform="translate(886.45,0) scale(1.1,1) translate(-886.45,0)">90<tspan dx="-0.5" font-weight="normal">-</tspan><tspan dx="-0.5">95</tspan></text><text x="954.5" y="683.7" fill="#d33f3f" font-size="18" letter-spacing="1.0" text-anchor="middle" transform="translate(954.55,0) scale(1.1,1) translate(-954.55,0)">46</text><text x="886.4" y="736.2" fill="#d33f3f" font-size="18" letter-spacing="1.0" text-anchor="middle" transform="translate(886.45,0) scale(1.1,1) translate(-886.45,0)">85<tspan dx="-0.5" font-weight="normal">-</tspan><tspan dx="-0.5">90</tspan></text><text x="954.5" y="736.2" fill="#d33f3f" font-size="18" letter-spacing="1.0" text-anchor="middle" transform="translate(954.55,0) scale(1.1,1) translate(-954.55,0)">44</text><text x="886.4" y="788.7" fill="#d33f3f" font-size="18" letter-spacing="1.0" text-anchor="middle" transform="translate(886.45,0) scale(1.1,1) translate(-886.45,0)">80<tspan dx="-0.5" font-weight="normal">-</tspan><tspan dx="-0.5">85</tspan></text><text x="954.5" y="788.7" fill="#d33f3f" font-size="18" letter-spacing="1.0" text-anchor="middle" transform="translate(954.55,0) scale(1.1,1) translate(-954.55,0)">42</text><text x="886.4" y="841.2" fill="#d33f3f" font-size="18" letter-spacing="1.0" text-anchor="middle" transform="translate(886.45,0) scale(1.1,1) translate(-886.45,0)">75<tspan dx="-0.5" font-weight="normal">-</tspan><tspan dx="-0.5">80</tspan></text><text x="954.5" y="841.2" fill="#d33f3f" font-size="18" letter-spacing="1.0" text-anchor="middle" transform="translate(954.55,0) scale(1.1,1) translate(-954.55,0)">40</text><text x="886.4" y="893.7" fill="#d33f3f" font-size="18" letter-spacing="1.0" text-anchor="middle" transform="translate(886.45,0) scale(1.1,1) translate(-886.45,0)">70<tspan dx="-0.5" font-weight="normal">-</tspan><tspan dx="-0.5">75</tspan></text><text x="954.5" y="893.7" fill="#d33f3f" font-size="18" letter-spacing="1.0" text-anchor="middle" transform="translate(954.55,0) scale(1.1,1) translate(-954.55,0)">38</text><text x="886.4" y="946.2" fill="#d33f3f" font-size="18" letter-spacing="1.0" text-anchor="middle" transform="translate(886.45,0) scale(1.1,1) translate(-886.45,0)">65<tspan dx="-0.5" font-weight="normal">-</tspan><tspan dx="-0.5">70</tspan></text><text x="954.5" y="946.2" fill="#d33f3f" font-size="18" letter-spacing="1.0" text-anchor="middle" transform="translate(954.55,0) scale(1.1,1) translate(-954.55,0)">36</text><text x="886.4" y="998.7" fill="#d33f3f" font-size="18" letter-spacing="1.0" text-anchor="middle" transform="translate(886.45,0) scale(1.1,1) translate(-886.45,0)">60<tspan dx="-0.5" font-weight="normal">-</tspan><tspan dx="-0.5">65</tspan></text><text x="954.5" y="998.7" fill="#d33f3f" font-size="18" letter-spacing="1.0" text-anchor="middle" transform="translate(954.55,0) scale(1.1,1) translate(-954.55,0)">34</text></g><circle cx="685.2" cy="1182.2" r="72" fill="#0f0b41"/><circle cx="685.2" cy="1182.2" r="68" fill="none" stroke="#efe2f4" stroke-width="1.6"/><g stroke-linecap="round" stroke-linejoin="round"><path d="M644,1173 C641,1157 652,1141 667,1141 C679,1141 687,1148 691,1158 C684,1154 676,1152.5 668,1153.5 C658,1155 649,1162 644,1173 Z" fill="#33c4a8"/><path d="M656.5,1161 C651.5,1166 650.5,1174 654,1181 C654,1174 654,1167 656.5,1161 Z" fill="#4fd2ba" stroke="#4fd2ba" stroke-width="1"/><path d="M696.5,1184.5 C703,1193 716,1192 723.5,1176 C716,1183 707,1186.5 696.5,1184.5 Z" fill="#33c4a8" stroke="#33c4a8" stroke-width="1.5"/><path d="M661,1183 C672,1174 682,1166 690,1159 C693,1156 696,1153 699,1152.5 L706,1153.5 C702,1156 698,1160 694,1164 C684,1172 673,1179 661,1183 Z" fill="#e8b24e"/><path d="M681,1194 C690,1186 698,1178 704,1172 C708,1168 712,1166 716,1165 C711,1170 706,1177 700,1184 C694,1190 688,1193 681,1194 Z" fill="#e8b24e"/><path d="M642,1166 C643,1175 648,1184 657,1188.5 C665,1191 675,1190 683,1185 C690,1180 695,1172 702,1165 C708,1159 714,1157.5 718,1159.5 C721,1161 722.5,1164 723,1166.5" fill="none" stroke="#d8416c" stroke-width="8.5"/><path d="M726,1160 C729,1166 729,1174 724.5,1181" fill="none" stroke="#d8416c" stroke-width="2.5"/></g><text x="687.3" y="1213.9" fill="#f2c992" font-family="Liberation Sans, sans-serif" font-weight="bold" font-size="15" letter-spacing="3.6" text-anchor="middle">ERSEFA</text></svg>
<div class="t big" style="left:108.69px;top:274.6px;font-size:96px;transform:scaleX(0.9163)">S</div>
<div class="t big" style="left:159.66px;top:274.6px;font-size:96px;transform:scaleX(0.7935)">I</div>
<div class="t big" style="left:188.64px;top:274.6px;font-size:96px;transform:scaleX(0.8661)">Z</div>
<div class="t big" style="left:242.43px;top:274.6px;font-size:96px;transform:scaleX(0.7985)">E</div>
<div class="t big" style="left:105.92px;top:368.1px;font-size:96.5px;transform:scaleX(0.9250)">C</div>
<div class="t big" style="left:166.69px;top:368.1px;font-size:96.5px;transform:scaleX(0.8111)">H</div>
<div class="t big" style="left:228.77px;top:368.1px;font-size:96.5px;transform:scaleX(0.8434)">A</div>
<div class="t big" style="left:288.28px;top:368.1px;font-size:96.5px;transform:scaleX(0.8683)">R</div>
<div class="t big" style="left:348.65px;top:368.1px;font-size:96.5px;transform:scaleX(0.8311)">T</div>
<div class="t fd" id="fd" style="left:473px;top:396px;transform:scaleX(0.905)">FASHION DRESS</div>
</body></html>
